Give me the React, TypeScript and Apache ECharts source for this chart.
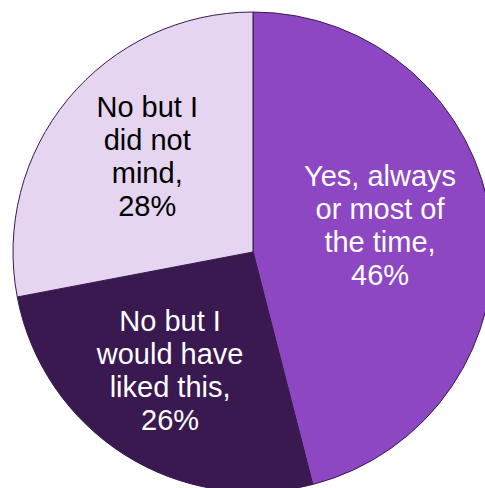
import React, { useEffect, useRef } from "react";
import * as echarts from "echarts";

const categories = [
  "Yes, always\nor most of\nthe time",
  "No but I\nwould have\nliked this",
  "No but I\ndid not\nmind",
];
const values = [46, 26, 28];
const colors = ["#8E47C3", "#391950", "#E5D5F0"];
const labelColors = ["#FFFFFF", "#FFFFFF", "#000000"];
const labelOffsets: [number, number][] = [
  [5, -11],
  [-17, 15],
  [-11, -17],
];

export default function App() {
  const ref = useRef<HTMLDivElement>(null);
  useEffect(() => {
    if (!ref.current) return;
    const chart = echarts.init(ref.current, undefined, { renderer: "svg" });
    chart.setOption({
      animation: false,
      backgroundColor: "#FFFFFF",
      series: [
        {
          type: "pie",
          center: [253, 252],
          radius: [0, 240],
          startAngle: 90,
          clockwise: true,
          avoidLabelOverlap: false,
          itemStyle: { borderColor: "#391950", borderWidth: 1 },
          emphasis: { disabled: true },
          label: {
            show: true,
            position: "inside",
            fontFamily: "Liberation Sans, Arial, sans-serif",
            fontSize: 29,
            lineHeight: 33,
            align: "center",
            formatter: (p: any) => `${p.name},\n${p.value}%`,
          },
          labelLine: { show: false },
          data: categories.map((name, i) => ({
            name,
            value: values[i],
            itemStyle: { color: colors[i] },
            label: { color: labelColors[i], offset: labelOffsets[i] },
          })),
        },
      ],
    });
    return () => chart.dispose();
  }, []);
  return (
    <div
      ref={ref}
      style={{ position: "absolute", left: 0, top: 0, width: 485, height: 488 }}
    />
  );
}
